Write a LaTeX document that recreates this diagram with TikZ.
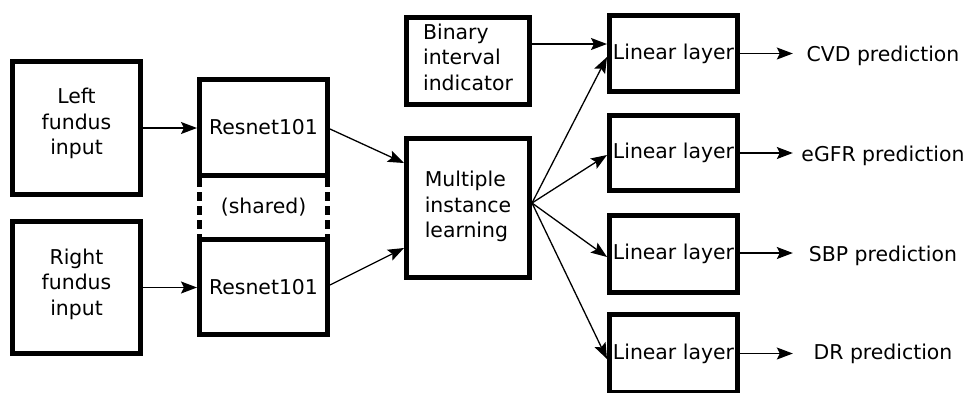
\documentclass[tikz,border=0pt]{standalone}
\usepackage{fontspec}
\setmainfont{DejaVu Sans}
\usetikzlibrary{arrows.meta,calc}
\newcommand\lowdepth[1]{\rule[-#1]{0pt}{#1}}
\begin{document}
\begin{tikzpicture}[x=1pt,y=-1pt,
  box/.style={draw, line width=4.7pt, inner sep=0pt, font=\fontsize{20.4}{25.5}\selectfont},
  conn/.style={line width=1.3pt, -{Stealth[length=16pt,width=12pt,inset=3pt]}},
  lbl/.style={inner sep=0pt, font=\fontsize{20.4}{25.5}\selectfont},
  dashside/.style={line width=4.7pt, dash pattern=on 9pt off 5pt}]
\useasboundingbox (0,0) rectangle (965,392);
\clip (0,0) rectangle (965,392);
% inputs
\node[box, minimum width=128.3pt, minimum height=133.3pt, align=center] (left) at (76.5,128) {Left\\fundus\\input\lowdepth{13pt}};
\node[box, minimum width=128.3pt, minimum height=132.3pt, align=center] (right) at (76.5,287.5) {Right\\fundus\\input\lowdepth{11pt}};
% resnets
\node[box, minimum width=128.3pt, minimum height=96.3pt] (res1) at (263.5,127.5) {Resnet101};
\node[box, minimum width=128.3pt, minimum height=95.3pt] (res2) at (263.5,287) {Resnet101};
\node[lbl] (shared) at (263.5,207) {(shared)};
\draw[dashside] ($(res1.south west)+(2.35,0)$) -- ($(res2.north west)+(2.35,0)$);
\draw[dashside] ($(res1.south east)+(-2.35,0)$) -- ($(res2.north east)+(-2.35,0)$);
% middle
\node[box, minimum width=123.3pt, minimum height=87.3pt, align=left] (bin) at (468,61) {Binary\\interval\\indicator\lowdepth{8pt}};
\node[box, minimum width=123.3pt, minimum height=139.3pt, align=left] (mil) at (468,208) {Multiple\\instance\\learning\lowdepth{7pt}};
% linear layers
\node[box, minimum width=128.3pt, minimum height=76.3pt] (lin1) at (673.5,53.5) {Linear layer};
\node[box, minimum width=128.3pt, minimum height=75.3pt] (lin2) at (673.5,153) {Linear layer};
\node[box, minimum width=128.3pt, minimum height=77.3pt] (lin3) at (673.5,254) {Linear layer};
\node[box, minimum width=128.3pt, minimum height=78.3pt] (lin4) at (673.5,353.5) {Linear layer};
% outputs
\node[lbl, minimum width=180pt] (o1) at (883,55.4) {CVD prediction};
\node[lbl, minimum width=180pt] (o2) at (883,155.4) {eGFR prediction};
\node[lbl, minimum width=180pt] (o3) at (883,255.4) {SBP prediction};
\node[lbl, minimum width=180pt] (o4) at (883,353.7) {DR prediction};
% connectors
\draw[conn] (left.east) -- (left.east -| res1.west);
\draw[conn] (right.east) -- (right.east -| res2.west);
\draw[conn] ($(res1.east)+(0,1.5)$) -- ($(mil.west)+(0,-45)$);
\draw[conn] ($(res2.east)+(0,-2)$) -- ($(mil.west)+(0,40)$);
\coordinate (src) at ($(mil.east)+(0,-5)$);
\draw[conn] ($(bin.east)+(0,-17)$) -- ($(lin1.west)+(0,-9.5)$);
\draw[conn] (src) -- ($(lin1.west)+(0,3.5)$);
\draw[conn] (src) -- ($(lin2.west)+(0,2)$);
\draw[conn] (src) -- ($(lin3.west)+(0,3)$);
\draw[conn] (src) -- ($(lin4.west)+(0,5.5)$);
\draw[conn] (lin1.east) -- (lin1.east -| o1.west);
\draw[conn] (lin2.east) -- (lin2.east -| o2.west);
\draw[conn] ($(lin3.east)+(0,-1)$) -- ($(lin3.east -| o3.west)+(0,-1)$);
\draw[conn] (lin4.east) -- (lin4.east -| o4.west);
\end{tikzpicture}
\end{document}
